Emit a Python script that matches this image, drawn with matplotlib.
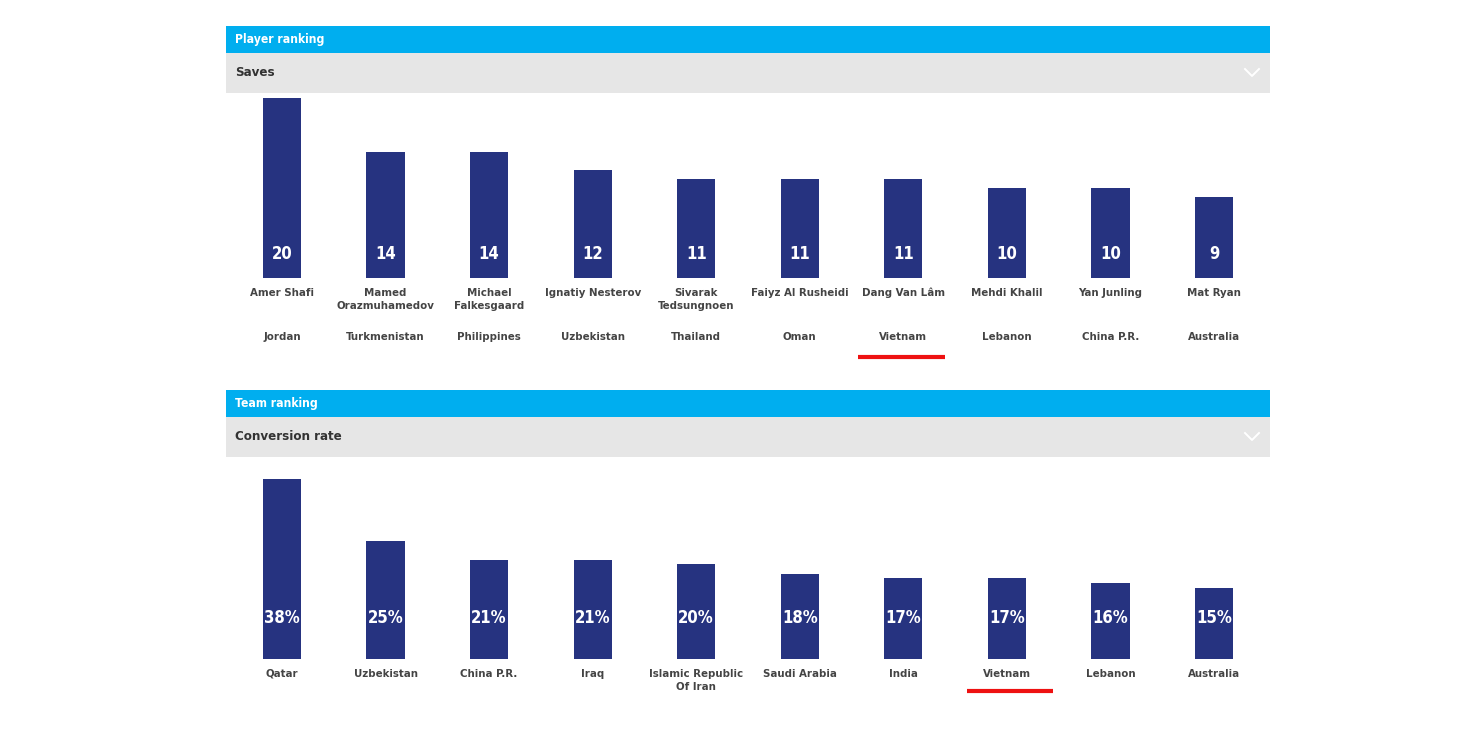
import matplotlib.pyplot as plt
from matplotlib.patches import Rectangle
from matplotlib.lines import Line2D

# datos del grafico
jugadores = ['Amer Shafi', 'Mamed\nOrazmuhamedov', 'Michael\nFalkesgaard', 'Ignatiy Nesterov',
             'Sivarak\nTedsungnoen', 'Faiyz Al Rusheidi', 'Dang Van Lâm', 'Mehdi Khalil',
             'Yan Junling', 'Mat Ryan']
paises_jug = ['Jordan', 'Turkmenistan', 'Philippines', 'Uzbekistan', 'Thailand',
              'Oman', 'Vietnam', 'Lebanon', 'China P.R.', 'Australia']
atajadas = [20, 14, 14, 12, 11, 11, 11, 10, 10, 9]

equipos = ['Qatar', 'Uzbekistan', 'China P.R.', 'Iraq', 'Islamic Republic\nOf Iran',
           'Saudi Arabia', 'India', 'Vietnam', 'Lebanon', 'Australia']
conversion = [38, 25, 21, 21, 20, 18, 17, 17, 16, 15]

resaltado = 'Vietnam'

AZUL = '#00AEEF'
GRIS = '#E6E6E6'
BARRA = '#263380'
TEXTO = '#444444'
ROJO = '#EE1111'

plt.rcParams['font.family'] = ['DejaVu Sans']
plt.rcParams['font.stretch'] = 'condensed'
plt.rcParams['font.weight'] = 'bold'

W, H = 1464, 732
fig = plt.figure(figsize=(W / 100, H / 100), dpi=100)
fig.patch.set_facecolor('white')


def fx(x):
    return x / W


def fy(y):
    return 1 - y / H


def cabecera(y0, titulo, subtitulo):
    # barra azul
    fig.add_artist(Rectangle((fx(226), fy(y0 + 27)), fx(1044), 27 / H,
                             transform=fig.transFigure, color=AZUL, lw=0))
    # barra gris
    fig.add_artist(Rectangle((fx(226), fy(y0 + 67)), fx(1044), 40 / H,
                             transform=fig.transFigure, color=GRIS, lw=0))
    fig.text(fx(235), fy(y0 + 13.5), titulo, color='white', fontsize=8.7,
             va='center', ha='left', fontweight='bold')
    fig.text(fx(235), fy(y0 + 46.5), subtitulo, color='#333333', fontsize=9.5,
             va='center', ha='left', fontweight='bold')
    # flechita
    fig.add_artist(Line2D([fx(1245), fx(1252), fx(1259)],
                          [fy(y0 + 43), fy(y0 + 50), fy(y0 + 43)],
                          transform=fig.transFigure, color='white', lw=1.4))


def panel(base, valores, etiquetas, paises, fmt, yval):
    ax = fig.add_axes([fx(226), fy(base), fx(1044), 180 / H])
    ax.set_xlim(-0.54, 9.54)
    ax.set_ylim(0, max(valores))
    ax.axis('off')
    xs = list(range(len(valores)))
    ax.bar(xs, valores, width=0.367, color=BARRA)
    tr = ax.get_xaxis_transform()
    for i in xs:
        ax.text(i, yval / 180, fmt.format(valores[i]), transform=tr, color='white',
                fontsize=12, ha='center', va='center', fontweight='bold')
        ax.text(i, -10 / 180, etiquetas[i], transform=tr, color=TEXTO, fontsize=8.2,
                ha='center', va='top', linespacing=1.35, clip_on=False)
        if paises is not None:
            ax.text(i, -59 / 180, paises[i], transform=tr, color=TEXTO, fontsize=8.2,
                    ha='center', va='center', clip_on=False)
    return ax, tr


cabecera(26, 'Player ranking', 'Saves')
ax1, tr1 = panel(278, atajadas, jugadores, paises_jug, '{}', 24)
k = paises_jug.index(resaltado)
ax1.plot([k - 0.44, k + 0.4], [-79 / 180, -79 / 180], transform=tr1, color=ROJO,
         lw=3, solid_capstyle='butt', clip_on=False)

cabecera(390, 'Team ranking', 'Conversion rate')
ax2, tr2 = panel(659, conversion, equipos, None, '{}%', 41)
k = equipos.index(resaltado)
ax2.plot([k - 0.39, k + 0.44], [-32 / 180, -32 / 180], transform=tr2, color=ROJO,
         lw=3, solid_capstyle='butt', clip_on=False)

fig.savefig('out.png', dpi=100)
